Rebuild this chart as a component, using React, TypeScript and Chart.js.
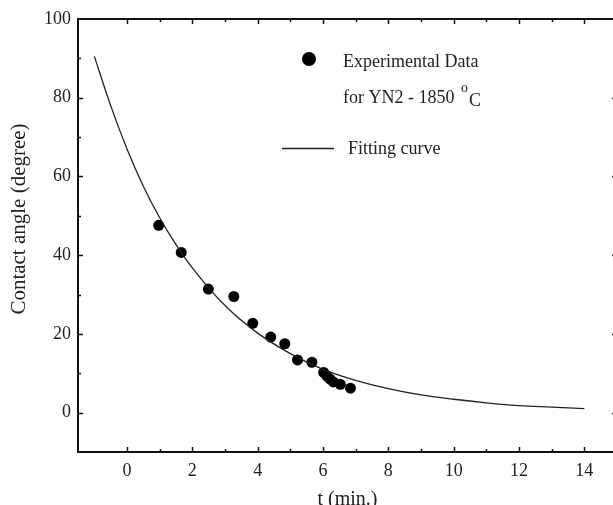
import React, { useEffect, useRef } from "react";
import { Chart, registerables } from "chart.js";

Chart.register(...registerables);

// Experimental data (t in min, contact angle in degree)
const expT = [0.97, 1.66, 2.49, 3.27, 3.85, 4.40, 4.83, 5.22, 5.66, 6.02, 6.12, 6.22, 6.32, 6.53, 6.84];
const expAngle = [47.6, 40.7, 31.4, 29.5, 22.7, 19.2, 17.5, 13.4, 12.8, 10.2, 9.3, 8.5, 7.8, 7.2, 6.2];

// Fitting curve
const fitT = [-1, -0.5, 0, 0.5, 1, 1.5, 2, 3, 4, 5, 6, 7, 8, 9, 10, 11, 12, 13, 14];
const fitAngle = [90.5, 78, 67, 57.5, 49.5, 42.7, 36.8, 27.2, 20.2, 15.0, 11.0, 8.2, 6.1, 4.5, 3.4, 2.5, 1.8, 1.4, 1.0];

const xMin = -1.5;
const xMax = 15;
const yMin = -10;
const yMax = 100;
const xLabelled = [0, 2, 4, 6, 8, 10, 12, 14];
const yLabelled = [0, 20, 40, 60, 80, 100];
const yTitle = "Contact angle (degree)";
const xTitle = "t (min.)";

const SERIF = '"Liberation Serif", "Times New Roman", serif';

const boxPlugin = {
  id: "boxAndLegend",
  afterDraw(chart: any) {
    const ctx = chart.ctx as CanvasRenderingContext2D;
    const { left, right, top, bottom } = chart.chartArea;
    const xs = chart.scales.x;
    const ys = chart.scales.y;
    ctx.save();
    ctx.strokeStyle = "#111";
    ctx.lineWidth = 1.5;
    // ticks (inward)
    xs.ticks.forEach((t: any) => {
      const v = t.value;
      if (!Number.isInteger(v) || v <= xs.min || v >= xs.max) return;
      const px = Math.round(xs.getPixelForValue(v)) + 0.5;
      const len = v % 2 === 0 ? 5 : 3;
      ctx.beginPath();
      ctx.moveTo(px, bottom);
      ctx.lineTo(px, bottom - len);
      ctx.moveTo(px, top);
      ctx.lineTo(px, top + len);
      ctx.stroke();
    });
    ys.ticks.forEach((t: any) => {
      const v = t.value;
      if (!Number.isInteger(v) || v <= ys.min || v >= ys.max) return;
      const py = Math.round(ys.getPixelForValue(v)) + 0.5;
      const len = v % 20 === 0 ? 5 : 3;
      ctx.beginPath();
      ctx.moveTo(left, py);
      ctx.lineTo(left + len, py);
      ctx.moveTo(right, py);
      ctx.lineTo(right - len, py);
      ctx.stroke();
    });
    // frame
    ctx.lineWidth = 2;
    ctx.strokeStyle = "#111";
    ctx.strokeRect(left, top, right - left, bottom - top);

    // y axis title
    ctx.save();
    ctx.translate(19, top + 200);
    ctx.rotate(-Math.PI / 2);
    ctx.font = `21px ${SERIF}`;
    ctx.fillStyle = "#222";
    ctx.textAlign = "center";
    ctx.textBaseline = "middle";
    ctx.fillText(yTitle, 0, 0);
    ctx.restore();

    // legend
    const lx = left + 231;
    ctx.fillStyle = "#000";
    ctx.beginPath();
    ctx.arc(lx, top + 40, 7, 0, Math.PI * 2);
    ctx.fill();
    ctx.font = `18px ${SERIF}`;
    ctx.fillStyle = "#222";
    ctx.textBaseline = "alphabetic";
    ctx.textAlign = "left";
    const tx = left + 265;
    ctx.fillText("Experimental Data", tx, top + 48);
    const l2 = "for YN2 - 1850 ";
    ctx.fillText(l2, tx, top + 84);
    const w2 = ctx.measureText(l2).width;
    ctx.font = `14px ${SERIF}`;
    ctx.fillText("o", tx + w2 + 2, top + 73);
    ctx.font = `18px ${SERIF}`;
    ctx.fillText("C", tx + w2 + 10, top + 87);
    // fitting curve legend
    ctx.strokeStyle = "#222";
    ctx.lineWidth = 1.3;
    ctx.beginPath();
    ctx.moveTo(left + 204, top + 129.5);
    ctx.lineTo(left + 256, top + 129.5);
    ctx.stroke();
    ctx.fillText("Fitting curve", left + 270, top + 135);
    ctx.restore();
  },
};

export default function App() {
  const ref = useRef<HTMLCanvasElement | null>(null);
  useEffect(() => {
    if (!ref.current) return;
    const chart = new Chart(ref.current, {
      type: "scatter",
      data: {
        datasets: [
          {
            label: "Fitting curve",
            data: fitT.map((t, i) => ({ x: t, y: fitAngle[i] })),
            showLine: true,
            borderColor: "#222",
            borderWidth: 1.3,
            pointRadius: 0,
            cubicInterpolationMode: "monotone",
            fill: false,
          },
          {
            label: "Experimental Data",
            data: expT.map((t, i) => ({ x: t, y: expAngle[i] })),
            showLine: false,
            backgroundColor: "#000",
            borderColor: "#000",
            pointRadius: 5.5,
            borderWidth: 0,
          },
        ],
      },
      options: {
        responsive: false,
        animation: false,
        devicePixelRatio: 1,
        layout: { padding: { top: 19, right: 8, left: 0, bottom: 0 } },
        plugins: { legend: { display: false }, tooltip: { enabled: false } },
        scales: {
          x: {
            type: "linear",
            min: xMin,
            max: xMax,
            afterFit(scale: any) {
              scale.height = 63;
            },
            grid: { display: false, drawTicks: false },
            border: { display: false },
            ticks: {
              stepSize: 1,
              autoSkip: false,
              maxRotation: 0,
              padding: 8,
              color: "#222",
              font: { family: SERIF, size: 18 },
              callback: (v: any) => (xLabelled.includes(Number(v)) ? String(v) : ""),
            },
            title: {
              display: true,
              text: xTitle,
              color: "#222",
              font: { family: SERIF, size: 20 },
              padding: { top: 0, bottom: 3 },
            },
          },
          y: {
            type: "linear",
            min: yMin,
            max: yMax,
            afterFit(scale: any) {
              scale.width = 78;
            },
            grid: { display: false, drawTicks: false },
            border: { display: false },
            ticks: {
              stepSize: 10,
              autoSkip: false,
              padding: 7,
              color: "#222",
              font: { family: SERIF, size: 18 },
              callback: (v: any) => (yLabelled.includes(Number(v)) ? String(v) : ""),
            },
            title: { display: false },
          },
        },
      },
      plugins: [boxPlugin],
    } as any);
    return () => chart.destroy();
  }, []);
  return (
    <div
      style={{
        position: "absolute",
        left: 0,
        top: 0,
        width: 613,
        height: 505,
        overflow: "hidden",
        background: "#fff",
      }}
    >
      <canvas ref={ref} width={625} height={515} style={{ display: "block" }} />
    </div>
  );
}
